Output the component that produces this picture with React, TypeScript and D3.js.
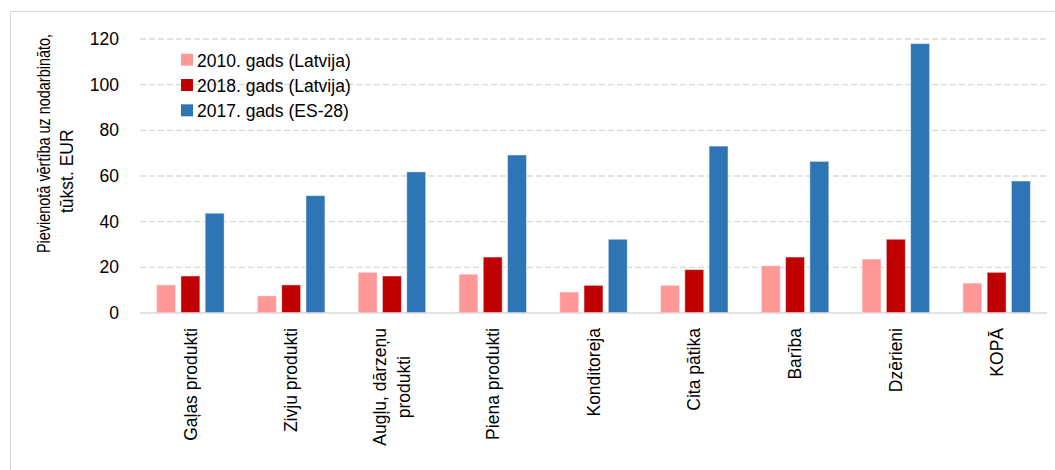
import React from "react";
import * as d3 from "d3";

const categories: string[][] = [
  ["Gaļas produkti"],
  ["Zivju produkti"],
  ["Augļu, dārzeņu", "produkti"],
  ["Piena produkti"],
  ["Konditoreja"],
  ["Cita pātika"],
  ["Barība"],
  ["Dzērieni"],
  ["KOPĀ"],
];
const seriesNames = ["2010. gads (Latvija)", "2018. gads (Latvija)", "2017. gads (ES-28)"];
const seriesColors = ["#FF9896", "#C00000", "#2E75B6"];
const values2010 = [12.3, 7.5, 17.8, 17.0, 9.2, 12.1, 20.7, 23.6, 13.1];
const values2018 = [16.2, 12.3, 16.2, 24.5, 12.1, 19.0, 24.5, 32.3, 17.8];
const values2017 = [43.7, 51.4, 61.8, 69.2, 32.3, 73.1, 66.4, 118.0, 57.8];
const yTicks = [0, 20, 40, 60, 80, 100, 120];
const yTitle = ["Pievienotā vērtība uz nodarbināto,", "tūkst. EUR"];

const FONT = '"Liberation Sans", Arial, sans-serif';
const FS = 17.5;

export default function App() {
  const W = 1055;
  const H = 470;
  const left = 140;
  const right = 1047;
  const top = 39;
  const bottom = 313;
  const series = [values2010, values2018, values2017];

  const y = d3.scaleLinear().domain([0, 120]).range([bottom, top]);
  const x0 = d3
    .scaleBand<number>()
    .domain(categories.map((_, i) => i))
    .range([left, right])
    .paddingInner(0)
    .paddingOuter(0);
  const groupW = 67.5;
  const x1 = d3
    .scaleBand<number>()
    .domain([0, 1, 2])
    .range([0, groupW])
    .paddingInner(0.22)
    .paddingOuter(0);

  const lineStart = [328, 356];

  return (
    <svg
      width={W}
      height={H}
      style={{ position: "absolute", left: 0, top: 0, background: "#fff" }}
      fontFamily={FONT}
    >
      <rect x={10.5} y={11.5} width={1200} height={600} fill="#fff" stroke="#d9d9d9" strokeWidth={1} />
      {yTicks
        .filter((t) => t > 0)
        .map((t) => (
          <line
            key={"g" + t}
            x1={left}
            x2={right}
            y1={y(t)}
            y2={y(t)}
            stroke="#d9d9d9"
            strokeWidth={1.3}
            strokeDasharray="6,3"
          />
        ))}
      {yTicks.map((t) => (
        <text key={"t" + t} x={119} y={y(t)} dy="0.35em" textAnchor="end" fontSize={FS} fill="#000">
          {t}
        </text>
      ))}
      {categories.map((_, ci) => {
        const gx = (x0(ci) as number) + x0.bandwidth() / 2 - groupW / 2;
        return series.map((vals, si) => (
          <rect
            key={`b${ci}-${si}`}
            x={gx + (x1(si) as number)}
            y={y(vals[ci])}
            width={x1.bandwidth()}
            height={y(0) - y(vals[ci])}
            fill={seriesColors[si]}
            stroke="#ffffff"
            strokeOpacity={0.45}
            strokeWidth={1}
          />
        ));
      })}
      <line x1={left} x2={right} y1={bottom} y2={bottom} stroke="#d9d9d9" strokeWidth={1.5} />
      {categories.map((lines, ci) => {
        const cx = (x0(ci) as number) + x0.bandwidth() / 2;
        const lh = 24;
        return (
          <g key={"x" + ci}>
            {lines.map((ln, li) => (
              <text
                key={li}
                transform={`translate(${cx + (li - (lines.length - 1) / 2) * lh},${lineStart[li]}) rotate(-90)`}
                textAnchor="end"
                dy="0.35em"
                fontSize={FS}
                fill="#000"
              >
                {ln}
              </text>
            ))}
          </g>
        );
      })}
      <text
        transform="translate(44,253) rotate(-90) scale(0.825,1)"
        textAnchor="start"
        dy="0.35em"
        fontSize={FS}
        fill="#000"
      >
        {yTitle[0]}
      </text>
      <text transform="translate(66.5,213) rotate(-90)" textAnchor="start" dy="0.35em" fontSize={FS} fill="#000">
        {yTitle[1]}
      </text>
      {seriesNames.map((name, i) => (
        <g key={"l" + i} transform={`translate(181,${66.7 + i * 25.3})`}>
          <rect x={0} y={-13} width={12} height={12} fill={seriesColors[i]} />
          <text x={16} y={0} fontSize={FS} fill="#000">
            {name}
          </text>
        </g>
      ))}
    </svg>
  );
}
